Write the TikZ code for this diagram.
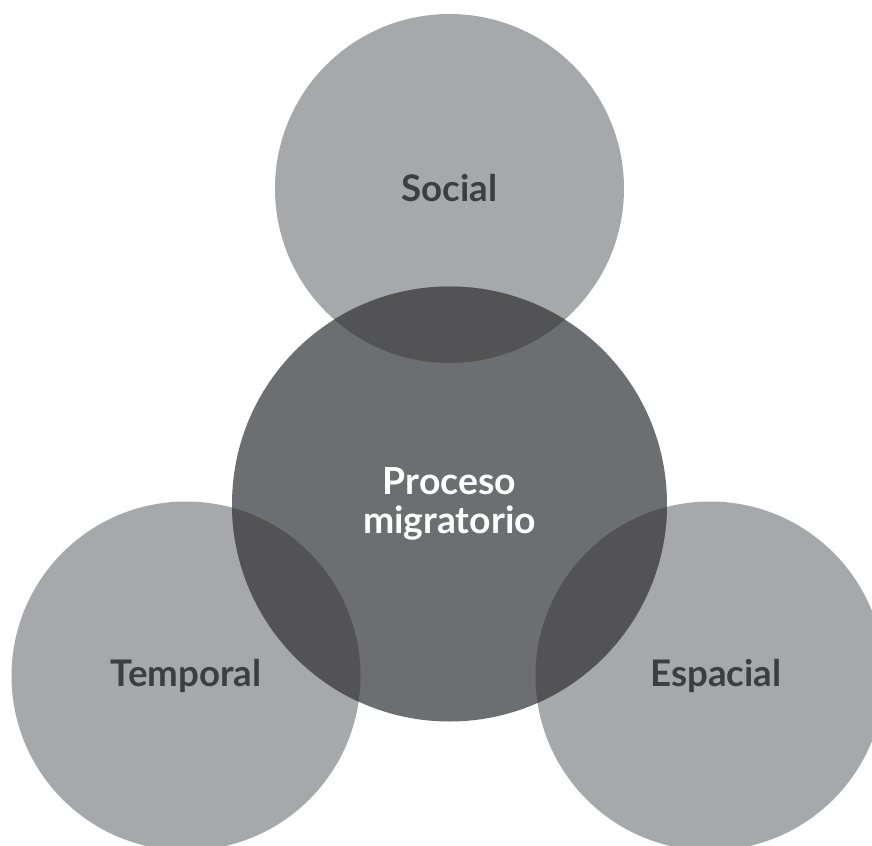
\documentclass[tikz,border=0pt]{standalone}
\usepackage{fontspec}
\setmainfont{Lato}
\usepackage{tikz}

\definecolor{ringgray}{RGB}{167,168,171}
\definecolor{coregray}{RGB}{109,110,114}
\definecolor{lensgray}{RGB}{83,83,86}
\definecolor{labelgray}{RGB}{62,62,64}

\tikzset{
  ring/.style={circle, fill=ringgray, inner sep=0pt, minimum size=261.75pt,
    text=labelgray, font=\fontsize{27.5}{32}\selectfont\bfseries},
  core/.style={circle, fill=coregray, inner sep=0pt, minimum size=326.25pt,
    text=white, align=center, font=\fontsize{28}{29}\selectfont\bfseries},
}

\begin{document}
\begin{tikzpicture}[x=0.75pt,y=0.75pt,yscale=-1,xscale=1]
        \useasboundingbox (0,0) rectangle (872,846);

        % outer circles
        \node[ring] (social) at (449.5,188.5) {Social};
        \node[ring] (temporal) at (186,676) {Temporal};
        \node[ring] (espacial) at (710,676) {\hspace*{9pt}Espacial};

        % middle circle
        \node[core] (proceso) at (449.5,504) {};

        % overlaps
        \begin{scope}
          \clip (proceso) circle [radius=163.125pt];
          \fill[lensgray] (social) circle [radius=130.875pt];
          \fill[lensgray] (temporal) circle [radius=130.875pt];
          \fill[lensgray] (espacial) circle [radius=130.875pt];
        \end{scope}

        % Text Node
        \node[core, fill=none] (procesotxt) at (proceso) {Proceso\\migratorio};

\end{tikzpicture}
\end{document}
